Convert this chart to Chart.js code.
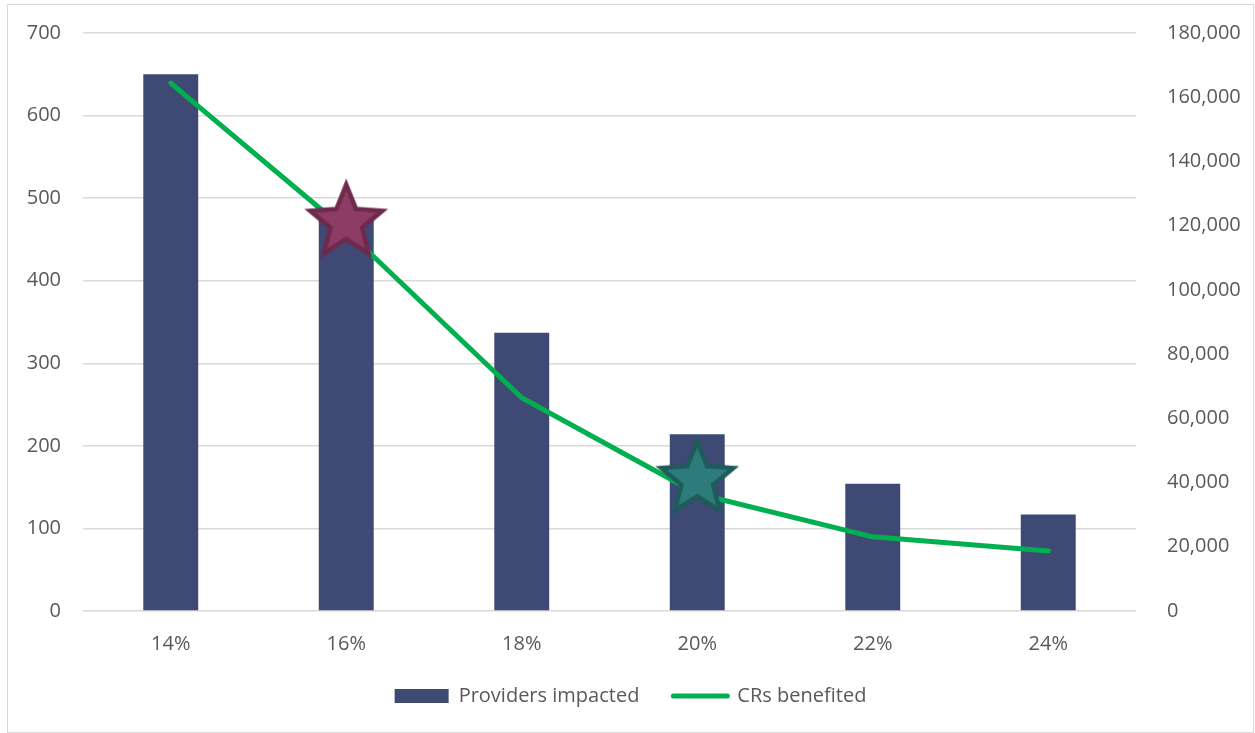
<!DOCTYPE html>
<html>
<head>
<meta charset="utf-8">
<script src="https://cdn.jsdelivr.net/npm/chart.js@4"></script>
<style>
  html, body { margin: 0; padding: 0; background: #fff; }
  #wrap {
    position: absolute; left: 7px; top: 4px;
    width: 1245px; height: 727px;
    border: 1px solid #d9d9d9;
  }
</style>
</head>
<body>
<div id="wrap"><canvas id="myChart"></canvas></div>
<script>
const categories = ['14%', '16%', '18%', '20%', '22%', '24%'];
const providersImpacted = [650, 480, 337, 214, 154, 117];
const crsBenefited = [164400, 118500, 66400, 36500, 23100, 18700];
const highlighted = [null, 121000, null, 40900, null, null];

const barColor = '#3f4a74';
const lineColor = '#00b050';
const textColor = '#595959';
const gridColor = '#d9d9d9';

// five-pointed star drawn once, used as a point image
function makeStar(fill, stroke) {
  const R = 38, r = R * 0.44, pad = 10;
  const c = document.createElement('canvas');
  const size = 2 * (R + pad);
  c.width = size;
  c.height = size;
  const g = c.getContext('2d');
  g.translate(size / 2, size / 2);
  g.beginPath();
  for (let i = 0; i < 10; i++) {
    const rad = i % 2 ? r : R;
    const a = -Math.PI / 2 + i * Math.PI / 5;
    g.lineTo(rad * Math.cos(a), rad * Math.sin(a));
  }
  g.closePath();
  g.fillStyle = fill;
  g.fill();
  g.lineWidth = 4.5;
  g.lineJoin = 'miter';
  g.strokeStyle = stroke;
  g.stroke();
  return c;
}

const starRed = makeStar('#8c3c65', '#6d2a4c');
const starTeal = makeStar('#2e7b7c', '#1f5b5c');

const font = { family: "'Open Sans', 'Noto Sans', sans-serif", size: 20 };

// fixed axis widths, no extra label padding above/below the plot
function fitY(width) {
  return function(scale) {
    scale.width = width;
    scale.paddingTop = 0;
    scale.paddingBottom = 0;
  };
}

var ctx = document.getElementById('myChart').getContext('2d');
var myChart = new Chart(ctx, {
  type: 'bar',
  data: {
    labels: categories,
    datasets: [
      {
        label: 'Stars',
        type: 'line',
        data: highlighted,
        yAxisID: 'y1',
        showLine: false,
        pointStyle: [false, starRed, false, starTeal, false, false],
        order: 0
      },
      {
        label: 'CRs benefited',
        type: 'line',
        data: crsBenefited,
        yAxisID: 'y1',
        borderColor: lineColor,
        backgroundColor: lineColor,
        borderWidth: 5,
        borderCapStyle: 'round',
        borderJoinStyle: 'round',
        pointRadius: 0,
        tension: 0,
        order: 1
      },
      {
        label: 'Providers impacted',
        data: providersImpacted,
        yAxisID: 'y',
        backgroundColor: barColor,
        categoryPercentage: 1,
        barPercentage: 0.313,
        order: 2
      }
    ]
  },
  options: {
    responsive: true,
    maintainAspectRatio: false,
    animation: false,
    layout: { padding: { top: 28, left: 0, right: 0, bottom: 16 } },
    plugins: {
      tooltip: { enabled: false },
      legend: {
        position: 'bottom',
        labels: {
          color: textColor,
          font: font,
          usePointStyle: true,
          pointStyleWidth: 54,
          boxHeight: 14,
          padding: 34,
          generateLabels: function() {
            return [
              { text: 'Providers impacted', fillStyle: barColor, strokeStyle: barColor,
                lineWidth: 0, pointStyle: 'rect', datasetIndex: 2, fontColor: textColor },
              { text: 'CRs benefited', fillStyle: lineColor, strokeStyle: lineColor,
                lineWidth: 5, lineCap: 'round', pointStyle: 'line', datasetIndex: 1, fontColor: textColor }
            ];
          }
        }
      }
    },
    scales: {
      x: {
        grid: { display: false },
        border: { display: false },
        ticks: { color: textColor, font: font, padding: 13 },
        afterFit: function(scale) { scale.height = 41; }
      },
      y: {
        position: 'left',
        min: 0,
        max: 700,
        ticks: { stepSize: 100, color: textColor, font: font, padding: 22 },
        grid: { color: gridColor, lineWidth: 1.5, drawTicks: false },
        border: { display: false },
        afterFit: fitY(75)
      },
      y1: {
        position: 'right',
        min: 0,
        max: 180000,
        ticks: { stepSize: 20000, color: textColor, font: font, padding: 23 },
        grid: { display: false },
        border: { display: false },
        afterFit: fitY(117)
      }
    }
  }
});
</script>
</body>
</html>
